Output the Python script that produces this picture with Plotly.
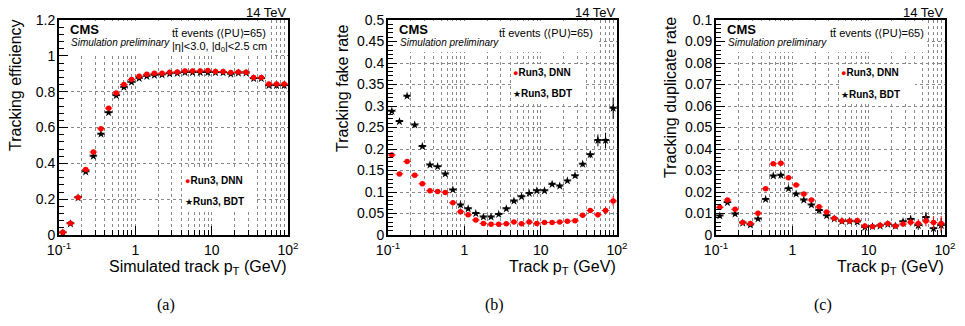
import math
import plotly.graph_objects as go

W, H = 965, 326

# ---------------- data ----------------
pt_edges = [0.1, 0.1259, 0.1585, 0.1995, 0.2512, 0.3162, 0.3981, 0.5012, 0.631, 0.7943,
            1.0, 1.259, 1.585, 1.995, 2.512, 3.162, 3.981, 5.012, 6.31, 7.943,
            10.0, 12.59, 15.85, 19.95, 25.12, 31.62, 39.81, 50.12, 63.1, 79.43, 100.0]

eff_dnn = [0.015, 0.065, 0.21, 0.365, 0.463, 0.593, 0.708, 0.793, 0.840, 0.868,
           0.886, 0.897, 0.903, 0.903, 0.908, 0.910, 0.916, 0.916, 0.916, 0.918,
           0.912, 0.912, 0.907, 0.910, 0.908, 0.879, 0.879, 0.843, 0.843, 0.843]
eff_bdt = [0.012, 0.063, 0.208, 0.353, 0.440, 0.563, 0.683, 0.778, 0.825, 0.853,
           0.875, 0.886, 0.892, 0.894, 0.900, 0.903, 0.907, 0.907, 0.907, 0.907,
           0.907, 0.906, 0.898, 0.904, 0.904, 0.873, 0.873, 0.834, 0.834, 0.834]
eff_dnn_err = [0.003] * 25 + [0.005, 0.006, 0.008, 0.009, 0.010]
eff_bdt_err = [0.003] * 25 + [0.005, 0.006, 0.008, 0.009, 0.010]

fake_dnn = [0.186, 0.142, 0.171, 0.139, 0.119, 0.103, 0.101, 0.099, 0.075, 0.054,
            0.047, 0.035, 0.027, 0.025, 0.025, 0.026, 0.030, 0.026, 0.030, 0.027,
            0.029, 0.029, 0.030, 0.032, 0.033, 0.046, 0.057, 0.047, 0.057, 0.079]
fake_bdt = [0.288, 0.264, 0.323, 0.256, 0.206, 0.163, 0.159, 0.142, 0.105, 0.070,
            0.061, 0.050, 0.042, 0.042, 0.048, 0.061, 0.079, 0.089, 0.097, 0.103,
            0.103, 0.118, 0.114, 0.126, 0.138, 0.165, 0.187, 0.220, 0.220, 0.295]
fake_dnn_err = [0.002] * 24 + [0.003, 0.004, 0.005, 0.006, 0.008, 0.012]
fake_bdt_err = [0.002] * 24 + [0.004, 0.006, 0.008, 0.014, 0.018, 0.025]

dup_dnn = [0.0129, 0.0163, 0.0120, 0.0058, 0.0054, 0.0101, 0.0215, 0.0331, 0.0334, 0.0266,
           0.0233, 0.0191, 0.0163, 0.0131, 0.0107, 0.0078, 0.0065, 0.0065, 0.0067, 0.0042,
           0.0039, 0.0045, 0.0054, 0.0042, 0.0051, 0.0059, 0.0054, 0.0065, 0.0058, 0.0054]
dup_bdt = [0.0089, 0.0151, 0.0098, 0.0056, 0.0047, 0.0075, 0.0166, 0.0275, 0.0278, 0.0216,
           0.0191, 0.0163, 0.0140, 0.0114, 0.0090, 0.0075, 0.0064, 0.0064, 0.0061, 0.0036,
           0.0039, 0.0042, 0.0050, 0.0042, 0.0062, 0.0073, 0.0044, 0.0082, 0.0030, 0.0045]
dup_dnn_err = [0.0006] * 22 + [0.0008, 0.0009, 0.0012, 0.0018, 0.0020, 0.0025, 0.0030, 0.0035]
dup_bdt_err = [0.0006] * 22 + [0.0008, 0.0009, 0.0012, 0.0018, 0.0020, 0.0025, 0.0030, 0.0035]

x_tickvals = [0.1, 1, 10, 100]
x_ticktext = ["10<sup>-1</sup>", "1", "10", "10<sup>2</sup>"]

# ---------------- helpers ----------------
centers = [math.sqrt(a * b) for a, b in zip(pt_edges[:-1], pt_edges[1:])]
ex_plus = [b - c for b, c in zip(pt_edges[1:], centers)]
ex_minus = [c - a for a, c in zip(pt_edges[:-1], centers)]
minor_vals = [m * 10 ** d for d in (-1, 0, 1) for m in range(2, 10)]

SANS = "Liberation Sans, Arial, Helvetica, sans-serif"
RED = "#ff0000"

# plot areas in pixels (left, right, top, bottom)
panels = [(59, 288, 20, 235), (388, 617, 20, 235), (716, 945, 20, 235)]

def px(x):
    return x / W

def py(y):
    return 1 - y / H

fig = go.Figure()

series = [
    (eff_dnn, eff_dnn_err, eff_bdt, eff_bdt_err),
    (fake_dnn, fake_dnn_err, fake_bdt, fake_bdt_err),
    (dup_dnn, dup_dnn_err, dup_bdt, dup_bdt_err),
]

for i, (dnn, dnne, bdt, bdte) in enumerate(series):
    sfx = "" if i == 0 else str(i + 1)
    for vals, errs, col, sym, sz in ((bdt, bdte, "black", "star", 6.5),
                                     (dnn, dnne, RED, "circle", 5.5)):
        fig.add_trace(go.Scatter(
            x=centers, y=vals, mode="markers", xaxis="x" + sfx, yaxis="y" + sfx,
            marker=dict(color=col, symbol=sym, size=sz, line=dict(width=0)),
            error_x=dict(type="data", symmetric=False, array=ex_plus, arrayminus=ex_minus,
                         color=col, thickness=1, width=0),
            error_y=dict(type="data", array=errs, color=col, thickness=1, width=0),
            showlegend=False))

yranges = [[0, 1.2], [0, 0.5], [0, 0.1]]
ydticks = [(0.2, 0.04), (0.05, 0.01), (0.01, 0.002)]

layout = dict(width=W, height=H, margin=dict(l=0, r=0, t=0, b=0, autoexpand=False),
              paper_bgcolor="white", plot_bgcolor="white",
              font=dict(family=SANS, size=14, color="black"), showlegend=False)

grid_kw = dict(showgrid=True, gridcolor="#8a8a8a", griddash="dot", gridwidth=1)

for i, (l, r, t, b) in enumerate(panels):
    sfx = "" if i == 0 else str(i + 1)
    layout["xaxis" + sfx] = dict(
        type="log", range=[-1, 2], domain=[px(l), px(r)], anchor="y" + sfx,
        tickvals=x_tickvals, ticktext=x_ticktext, ticks="inside", ticklen=9,
        tickwidth=1, tickcolor="black", showline=True, linecolor="black",
        linewidth=2, mirror=True, zeroline=False, tickfont=dict(size=14),
        ticklabelstandoff=1,
        minor=dict(tickvals=minor_vals, ticks="inside", ticklen=5, tickcolor="black",
                   **grid_kw),
        **grid_kw)
    d, md = ydticks[i]
    layout["yaxis" + sfx] = dict(
        range=yranges[i], domain=[py(b), py(t)], anchor="x" + sfx,
        tick0=0, dtick=d, ticks="inside", ticklen=9, tickwidth=1, tickcolor="black",
        showline=True, linecolor="black", linewidth=2, mirror=True, zeroline=False,
        tickfont=dict(size=14), ticklabelstandoff=-1,
        minor=dict(dtick=md, tick0=0, ticks="inside", ticklen=5, tickcolor="black",
                   showgrid=False),
        **grid_kw)

fig.update_layout(**layout)

# white boxes hiding grid behind the text / legend (placed in pixels, clear of axis ticks)
boxes_px = [
    [(69, 271, 21, 56), (184, 256, 170, 210)],
    [(398, 599, 21, 52), (511, 584, 64, 101)],
    [(726, 927, 21, 52), (839, 915, 64, 101)],
]
for bl in boxes_px:
    for x0, x1, y0, y1 in bl:
        fig.add_shape(type="rect", xref="paper", yref="paper",
                      x0=px(x0), x1=px(x1), y0=py(y1), y1=py(y0), fillcolor="white",
                      line=dict(width=0), layer="above")

def ann(text, x, y, size, xanchor="left", yanchor="middle", angle=0, family=SANS, **kw):
    fig.add_annotation(text=text, xref="paper", yref="paper", x=px(x), y=py(y),
                       xanchor=xanchor, yanchor=yanchor, showarrow=False, textangle=angle,
                       font=dict(size=size, family=family, color="black"), **kw)

ytitles = ["Tracking efficiency", "Tracking fake rate", "Tracking duplicate rate"]
ytitle_pos = [(15, 85), (342, 88), (670, 98)]
xtitles = ["Simulated track p<sub>T</sub> (GeV)", "Track p<sub>T</sub> (GeV)",
           "Track p<sub>T</sub> (GeV)"]
captions = ["(a)", "(b)", "(c)"]
legend_pos = [(186, 180, 201), (514, 72, 93), (842, 72, 94)]
ttbar_x = [170, 497, 828]

for i, (l, r, t, b) in enumerate(panels):
    ann("14 TeV", r + 1, 13, 13, xanchor="right")
    ann("<b>CMS</b>", l + 9, 29, 13)
    ann("<i>Simulation preliminary</i>", l + 10, 42, 10)
    ann("tt\u0304 events (\u27e8PU\u27e9=65)", ttbar_x[i], 33, 11)
    if i == 0:
        ann("|\u03b7|<3.0, |d<sub>0</sub>|<2.5 cm", ttbar_x[i], 47, 11)
    yx, yy = ytitle_pos[i]
    ann(ytitles[i], yx, yy, 16, xanchor="center", yanchor="middle", angle=-90)
    ann(xtitles[i], r + 1, 267, 16, xanchor="right")
    ann(captions[i], (l + r) / 2 - 8, 305, 16,
        xanchor="center", family="Liberation Serif, Times New Roman, serif")
    lx, ly1, ly2 = legend_pos[i]
    ann("<span style='color:#ff0000;font-size:9px'>\u25cf</span><b>Run3, DNN</b>", lx - 3, ly1, 10)
    ann("<span style='font-size:9px'>\u2605</span><b>Run3, BDT</b>", lx - 3, ly2, 10)

fig.write_html("out.html")
